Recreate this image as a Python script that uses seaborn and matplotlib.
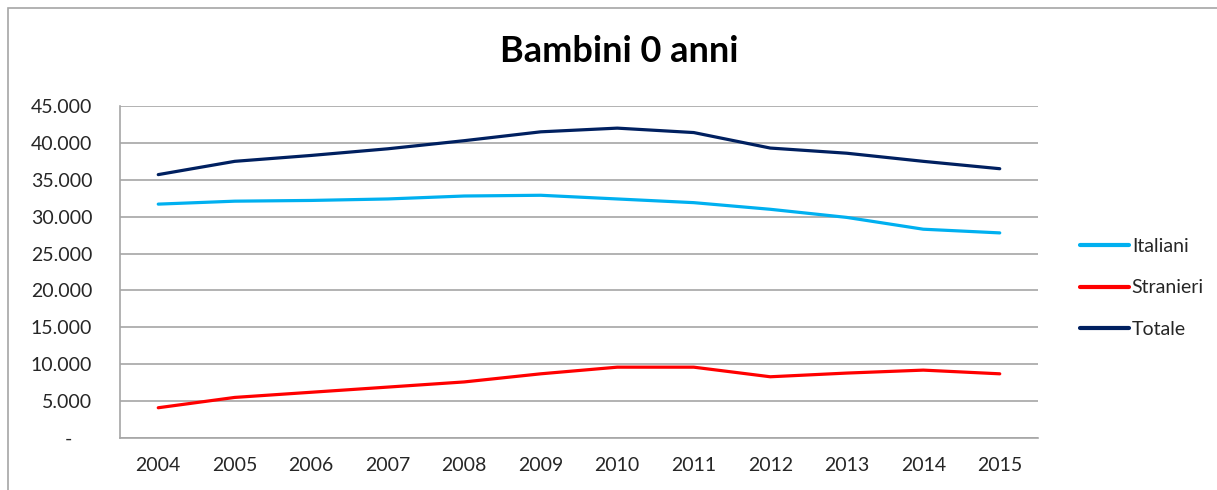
import matplotlib
matplotlib.use("Agg")
import matplotlib.pyplot as plt
import matplotlib.patches as mpatches
import seaborn as sns
import pandas as pd

anni = [2004, 2005, 2006, 2007, 2008, 2009, 2010, 2011, 2012, 2013, 2014, 2015]
italiani = [31700, 32100, 32200, 32400, 32800, 32900, 32400, 31900, 31000, 29900, 28300, 27800]
stranieri = [4100, 5500, 6200, 6900, 7600, 8700, 9600, 9600, 8300, 8800, 9200, 8700]
totale = [35700, 37500, 38300, 39200, 40300, 41500, 42000, 41400, 39300, 38600, 37500, 36500]
serie = ["Italiani", "Stranieri", "Totale"]
colori = ["#00B0F0", "#FF0000", "#002060"]
y_ticks = [0, 5000, 10000, 15000, 20000, 25000, 30000, 35000, 40000, 45000]

df = pd.DataFrame({"Anno": [str(a) for a in anni] * 3,
                   "Valore": italiani + stranieri + totale,
                   "Serie": [s for s in serie for _ in anni]})

sns.set_style("white")
plt.rcParams['font.family'] = ['Lato', 'DejaVu Sans']

fig = plt.figure(figsize=(12.17, 4.9), dpi=100)
ax = fig.add_axes([120 / 1217, 1 - 438 / 490, 918 / 1217, 332 / 490])

sns.lineplot(data=df, x="Anno", y="Valore", hue="Serie", palette=colori,
             linewidth=2.3, ax=ax, sort=False)

ax.set_xlim(-0.5, len(anni) - 0.5)
ax.set_ylim(0, 45000)
ax.set_yticks(y_ticks)
# formato contabile: zero come trattino, punto per le migliaia
ax.set_yticklabels(["-    "] + [f"{v:,}".replace(",", ".") for v in y_ticks[1:]])
ax.yaxis.grid(True, color="#A6A6A6", linewidth=1.2)
ax.set_axisbelow(True)
ax.set_xlabel("")
ax.set_ylabel("")
ax.tick_params(axis="y", labelsize=14, pad=20, length=0, colors="#262626")
ax.tick_params(axis="x", labelsize=14, pad=14, length=0, colors="#262626")
for s in ["top", "right"]:
    ax.spines[s].set_visible(False)
for s in ["left", "bottom"]:
    ax.spines[s].set_color("#A6A6A6")
    ax.spines[s].set_linewidth(1.2)

ax.legend(title=None, frameon=False, fontsize=14, loc="center left",
          bbox_to_anchor=(1.027, 0.452), handlelength=2.5, handletextpad=0.15,
          labelspacing=1.25)
for line in ax.get_legend().get_lines():
    line.set_linewidth(3)

fig.text(619 / 1217, 1 - 52 / 490, "Bambini 0 anni", ha="center", va="center",
         fontsize=26, fontweight="bold", color="#000000")

fig.patches.append(mpatches.Rectangle((8 / 1217, -0.1), 1.2, 1 - 8 / 490 + 0.1,
                                      transform=fig.transFigure, fill=False,
                                      edgecolor="#A6A6A6", linewidth=1.2))

fig.savefig("out.png", dpi=100)
